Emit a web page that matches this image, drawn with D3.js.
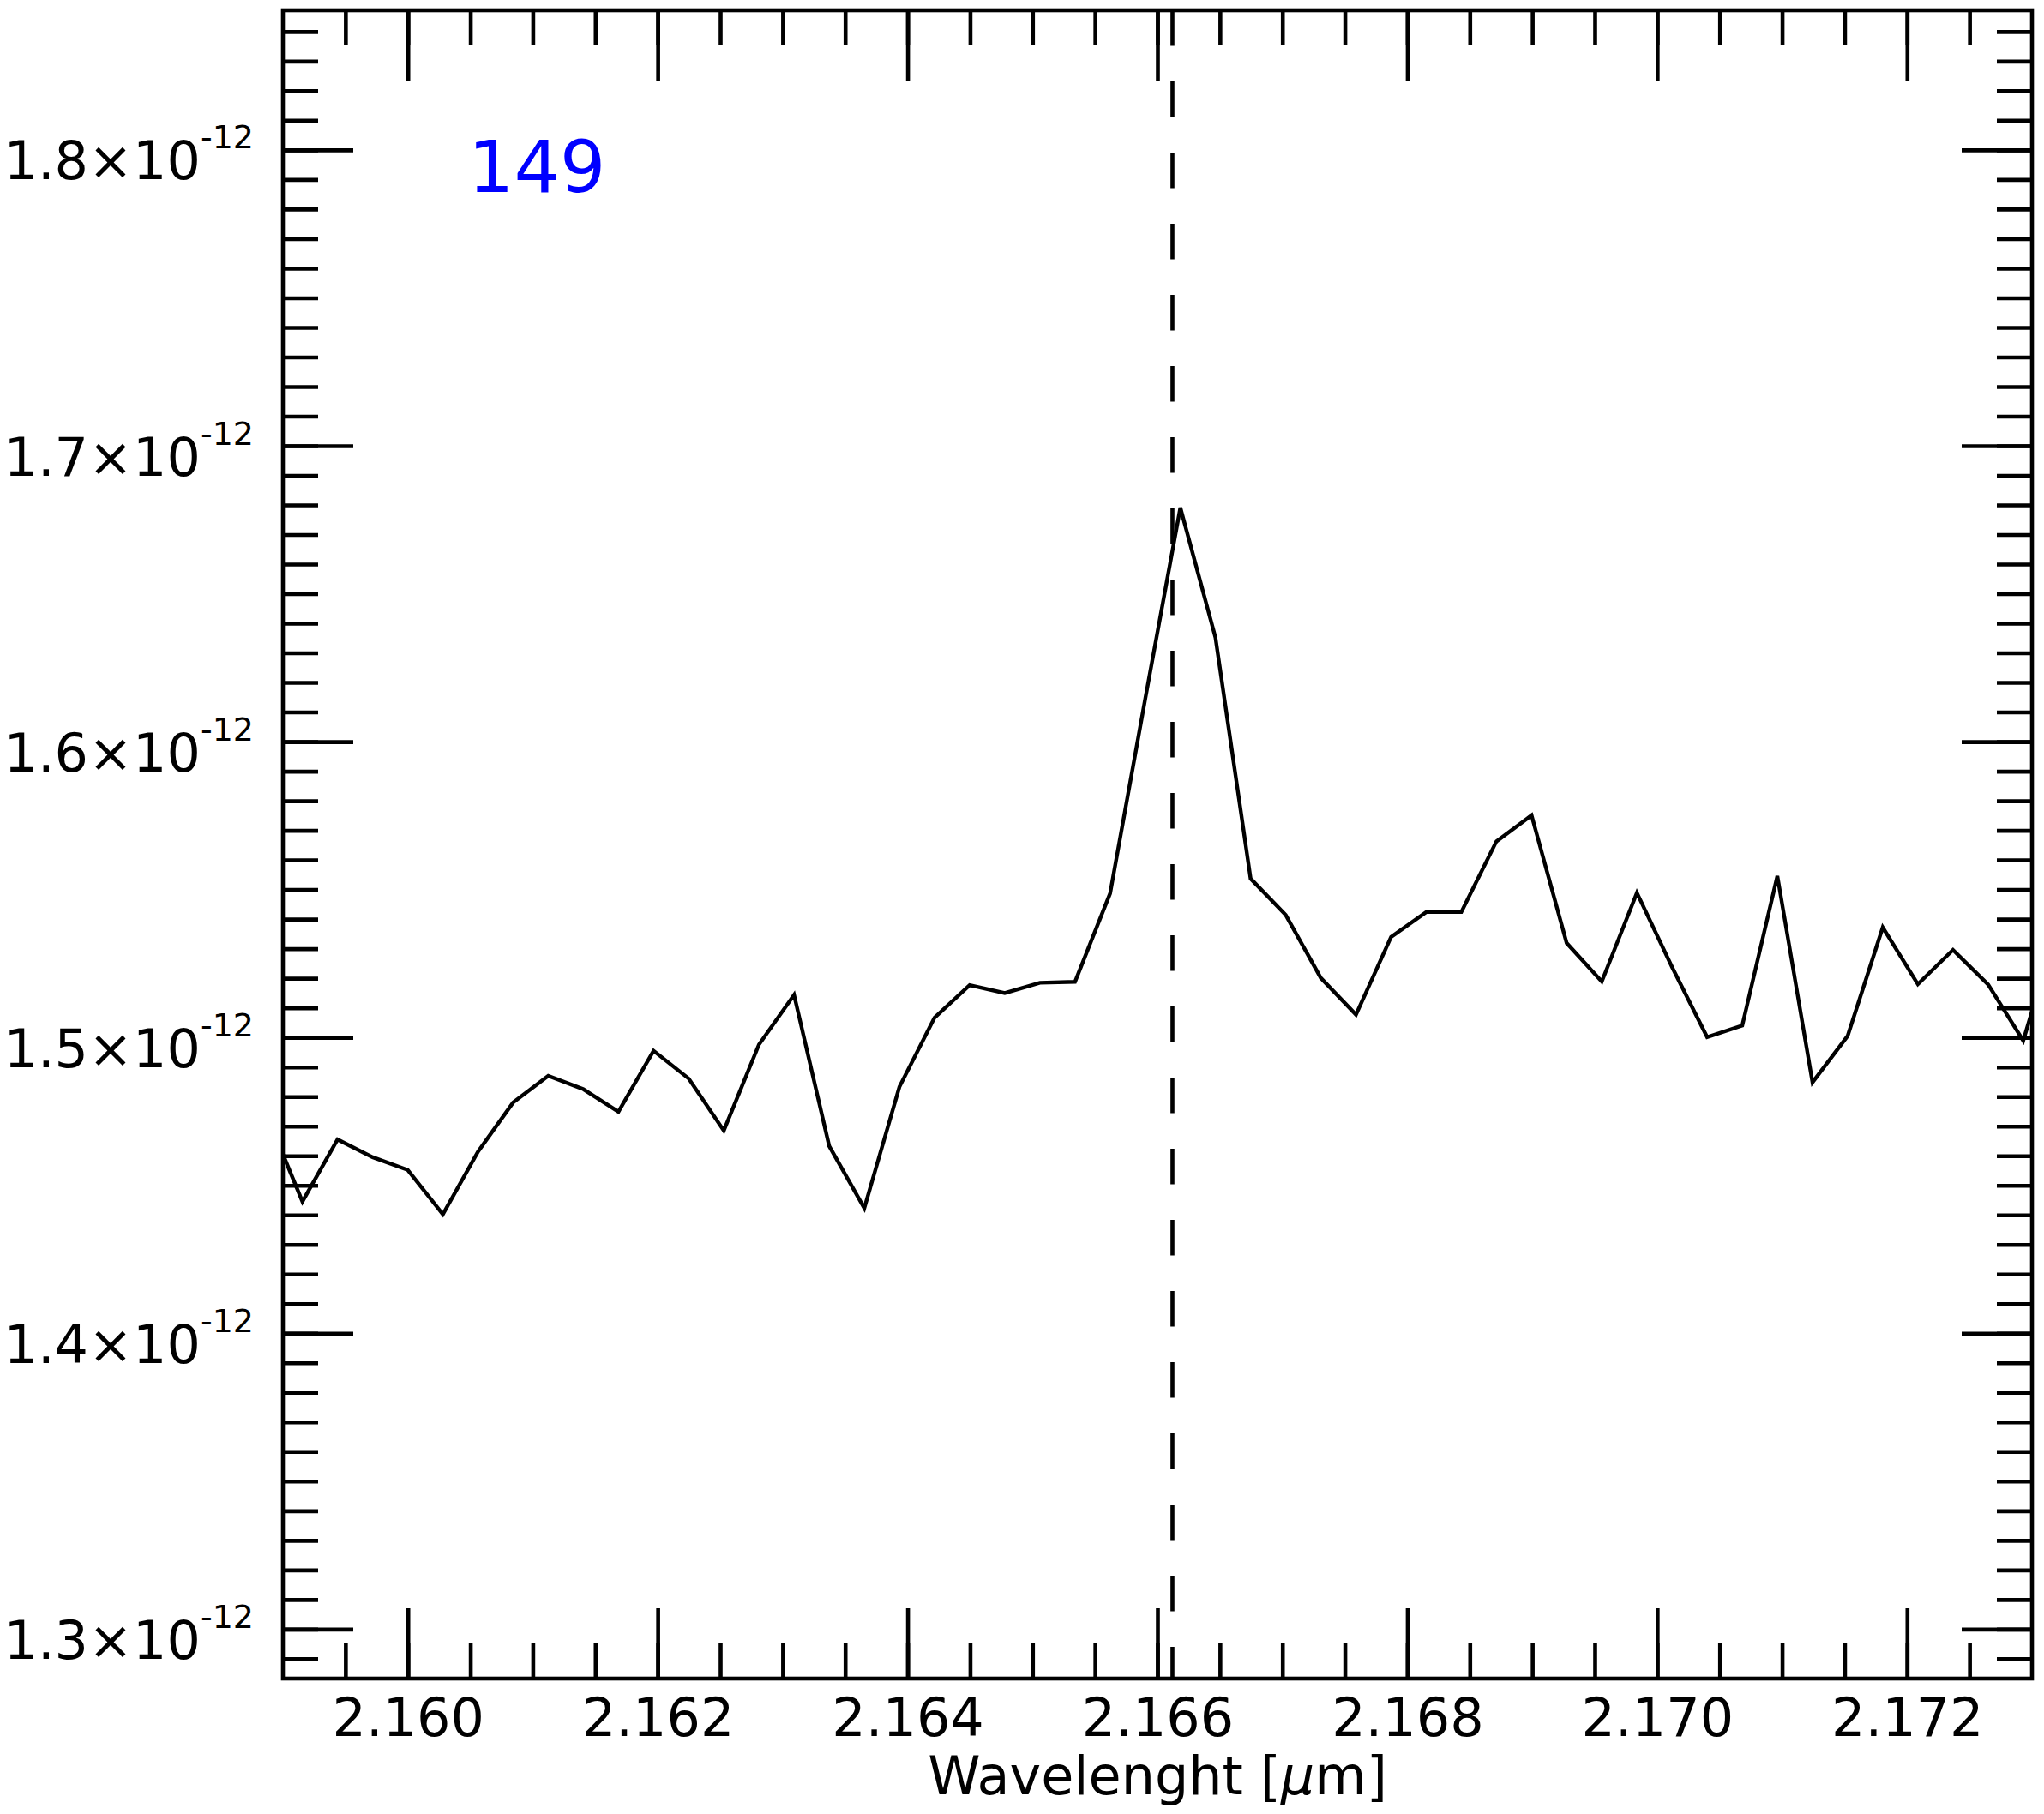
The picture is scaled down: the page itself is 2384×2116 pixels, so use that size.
<!DOCTYPE html>
<html>
<head>
<meta charset="utf-8">
<script src="https://cdn.jsdelivr.net/npm/d3@7"></script>
<style>
  html, body { margin: 0; padding: 0; background: #fff; }
  text { font-family: "DejaVu Sans", sans-serif; }
</style>
</head>
<body>
<div id="chart"></div>
<script>
// spectrum around Br-gamma (flux in units of 1e-12)
const wavelength = [
  2.1588747, 2.1591558, 2.1594369, 2.1597180, 2.1599991, 2.1602802, 2.1605613, 2.1608424,
  2.1611235, 2.1614046, 2.1616857, 2.1619668, 2.1622479, 2.1625290, 2.1628101, 2.1630912,
  2.1633723, 2.1636534, 2.1639345, 2.1642156, 2.1644967, 2.1647778, 2.1650589, 2.1653400,
  2.1656211, 2.1659022, 2.1661833, 2.1664644, 2.1667455, 2.1670266, 2.1673077, 2.1675888,
  2.1678699, 2.1681510, 2.1684321, 2.1687132, 2.1689943, 2.1692754, 2.1695565, 2.1698376,
  2.1701187, 2.1703998, 2.1706809, 2.1709620, 2.1712431, 2.1715242, 2.1718053, 2.1720864,
  2.1723675, 2.1726486, 2.1729297, 2.1732108
];
const flux = [
  1.4733e-12, 1.4445e-12, 1.4655e-12, 1.4595e-12, 1.4552e-12, 1.4402e-12, 1.4614e-12, 1.4780e-12,
  1.4870e-12, 1.4825e-12, 1.4749e-12, 1.4955e-12, 1.4861e-12, 1.4685e-12, 1.4976e-12, 1.5144e-12,
  1.4633e-12, 1.4423e-12, 1.4833e-12, 1.5067e-12, 1.5177e-12, 1.5150e-12, 1.5185e-12, 1.5188e-12,
  1.5487e-12, 1.6145e-12, 1.6791e-12, 1.6352e-12, 1.5537e-12, 1.5414e-12, 1.5201e-12, 1.5077e-12,
  1.5340e-12, 1.5424e-12, 1.5424e-12, 1.5663e-12, 1.5751e-12, 1.5319e-12, 1.5189e-12, 1.5489e-12,
  1.5238e-12, 1.5001e-12, 1.5040e-12, 1.5546e-12, 1.4848e-12, 1.5005e-12, 1.5372e-12, 1.5180e-12,
  1.5296e-12, 1.5179e-12, 1.4989e-12, 1.5386e-12
];

const xTicks = [2.160, 2.162, 2.164, 2.166, 2.168, 2.170, 2.172];
const xTickLabels = ["2.160", "2.162", "2.164", "2.166", "2.168", "2.170", "2.172"];
const yTicks = [1.3e-12, 1.4e-12, 1.5e-12, 1.6e-12, 1.7e-12, 1.8e-12];
const yTickMantissa = ["1.3", "1.4", "1.5", "1.6", "1.7", "1.8"];
const yTickExponent = "-12";
const lineCentre = 2.16612;   // Br-gamma
const objectLabel = "149";
const xTitle = "Wavelenght [";
const xUnit = "\u03bc";

const W = 2384, H = 2116;
const margin = { left: 330, right: 14, top: 12, bottom: 158 };
const frameW = 4.6;
const majorLen = 82, minorLen = 41;
const fontSize = 62;

const svg = d3.select("#chart").append("svg")
    .attr("width", W).attr("height", H)
    .style("display", "block");

const x = d3.scaleLinear().domain([2.159, 2.173]).range([margin.left, W - margin.right]);
const y = d3.scaleLinear().domain([1.2833e-12, 1.8472e-12]).range([H - margin.bottom, margin.top]);

const x0 = x.range()[0], x1 = x.range()[1];
const yBot = y.range()[0], yTop = y.range()[1];

const xMinor = d3.range(0, 28).map(i => 2.1595 + i * 0.0005).filter(v => v < 2.173);
const yMinor = d3.range(0, 56).map(i => (1.29 + i * 0.01) * 1e-12).filter(v => v < 1.8472e-12);

svg.append("defs").append("clipPath").attr("id", "plotclip")
  .append("rect").attr("x", x0).attr("y", yTop).attr("width", x1 - x0).attr("height", yBot - yTop);

// data line
const line = d3.line().x((d, i) => x(wavelength[i])).y(d => y(d));
svg.append("path")
    .datum(flux)
    .attr("clip-path", "url(#plotclip)")
    .attr("d", line)
    .attr("fill", "none")
    .attr("stroke", "#000")
    .attr("stroke-width", 4.4)
    .attr("stroke-linejoin", "miter");

// dashed line at line centre
svg.append("line")
    .attr("x1", x(lineCentre)).attr("x2", x(lineCentre))
    .attr("y1", yTop).attr("y2", yBot)
    .attr("stroke", "#000")
    .attr("stroke-width", frameW)
    .attr("stroke-dasharray", "41.5,41.5");

function styleAxis(g) {
  g.select(".domain").remove();
  g.selectAll(".tick line").attr("stroke", "#000").attr("stroke-width", frameW);
  g.selectAll(".tick text").attr("fill", "#000").style("font-size", fontSize + "px")
    .style("font-family", "'DejaVu Sans', sans-serif");
}

// minor ticks, all four sides
svg.append("g").attr("transform", `translate(0,${yBot})`)
  .call(d3.axisBottom(x).tickValues(xMinor).tickSize(-minorLen).tickFormat(""))
  .call(styleAxis);
svg.append("g").attr("transform", `translate(0,${yTop})`)
  .call(d3.axisTop(x).tickValues(xMinor).tickSize(-minorLen).tickFormat(""))
  .call(styleAxis);
svg.append("g").attr("transform", `translate(${x0},0)`)
  .call(d3.axisLeft(y).tickValues(yMinor).tickSize(-minorLen).tickFormat(""))
  .call(styleAxis);
svg.append("g").attr("transform", `translate(${x1},0)`)
  .call(d3.axisRight(y).tickValues(yMinor).tickSize(-minorLen).tickFormat(""))
  .call(styleAxis);

// major ticks
svg.append("g").attr("transform", `translate(0,${yBot})`)
  .call(d3.axisBottom(x).tickValues(xTicks).tickSize(-majorLen).tickPadding(23)
        .tickFormat((d, i) => xTickLabels[i]))
  .call(styleAxis);
svg.append("g").attr("transform", `translate(0,${yTop})`)
  .call(d3.axisTop(x).tickValues(xTicks).tickSize(-majorLen).tickFormat(""))
  .call(styleAxis);
const yAxisG = svg.append("g").attr("transform", `translate(${x0},0)`)
  .call(d3.axisLeft(y).tickValues(yTicks).tickSize(-majorLen).tickPadding(34)
        .tickFormat(""))
  .call(styleAxis);
svg.append("g").attr("transform", `translate(${x1},0)`)
  .call(d3.axisRight(y).tickValues(yTicks).tickSize(-majorLen).tickFormat(""))
  .call(styleAxis);

// y labels with superscript exponent
yAxisG.selectAll(".tick text").each(function(d, i) {
  const t = d3.select(this).attr("dy", "0.55em");
  t.append("tspan").text(yTickMantissa[i] + "\u00d710");
  t.append("tspan").attr("dy", -36).style("font-size", "38px").text(yTickExponent);
});

// frame
svg.append("rect")
    .attr("x", x0).attr("y", yTop)
    .attr("width", x1 - x0).attr("height", yBot - yTop)
    .attr("fill", "none")
    .attr("stroke", "#000")
    .attr("stroke-width", frameW);

// axis title
const title = svg.append("text")
    .attr("x", (x0 + x1) / 2).attr("y", 2093)
    .attr("text-anchor", "middle")
    .style("font-size", fontSize + "px");
title.append("tspan").text(xTitle);
title.append("tspan").style("font-style", "italic").text(xUnit);
title.append("tspan").text("m]");

// object id
svg.append("text")
    .attr("x", 546).attr("y", 224)
    .attr("fill", "#0000ff")
    .style("font-size", "84px")
    .text(objectLabel);
</script>
</body>
</html>
